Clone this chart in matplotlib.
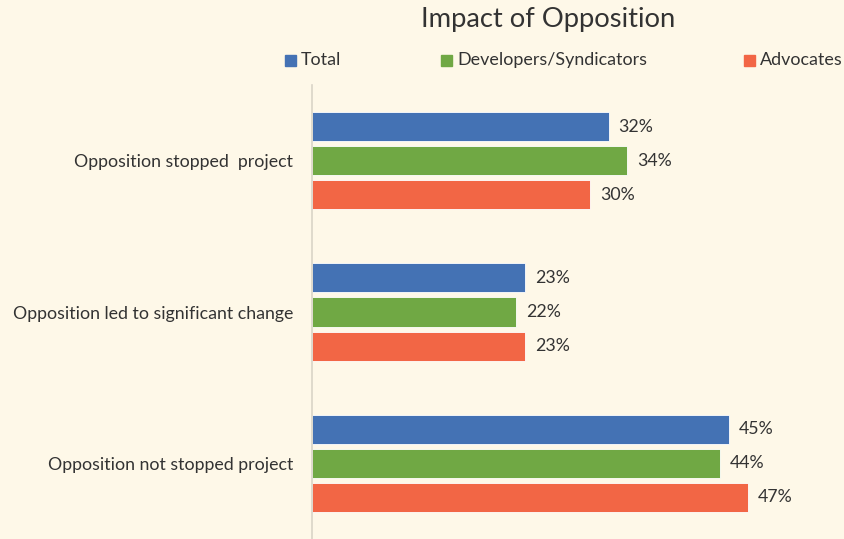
import matplotlib.pyplot as plt
from matplotlib.patches import Rectangle

# Data
categories = ['Opposition stopped  project', 'Opposition led to significant change', 'Opposition not stopped project']
series_names = ['Total', 'Developers/Syndicators', 'Advocates']
total = [32, 23, 45]
developers = [34, 22, 44]
advocates = [30, 23, 47]
colors = ['#4472B4', '#70A844', '#F26645']
bg = '#FEF8E8'

plt.rcParams['font.family'] = ['Lato', 'DejaVu Sans']

W, H = 844, 539
fig = plt.figure(figsize=(W / 100, H / 100), dpi=100, facecolor=bg)
ax = fig.add_axes([312 / W, 0, (W - 312) / W, 1 - 85 / H], facecolor=bg)

pitch = 0.225
height = 0.192
for i, (name, vals, c) in enumerate(zip(series_names, [total, developers, advocates], colors)):
    ys = [k + (i - 1) * pitch for k in range(len(categories))]
    ax.barh(ys, vals, height=height, color=c, edgecolor='white', linewidth=0.6, label=name)
    for y, v in zip(ys, vals):
        ax.annotate(f'{v}%', (v, y), xytext=(7, 0), textcoords='offset points',
                    va='center', ha='left', fontsize=12.8, color='#333333')

ax.set_xlim(0, 57.4)
ax.set_ylim(2.5, -0.5)
ax.set_yticks(range(len(categories)))
ax.set_yticklabels(categories, fontsize=12.8, color='#333333')
ax.tick_params(axis='y', length=0, pad=13.5)
ax.set_xticks([])
for s in ['top', 'right', 'bottom']:
    ax.spines[s].set_visible(False)
ax.spines['left'].set_color('#D9D4C7')
ax.spines['left'].set_linewidth(1.2)

fig.text(548 / W, 1 - 19 / H, 'Impact of Opposition', ha='center', va='center',
         fontsize=19.7, color='#333333')

# Legend
leg_x = [285, 441, 744]
for x, name, c in zip(leg_x, series_names, colors):
    fig.patches.append(Rectangle((x / W, 1 - 66 / H), 11 / W, 11 / H, transform=fig.transFigure,
                                 color=c, figure=fig))
    fig.text((x + 16) / W, 1 - 60 / H, name, ha='left', va='center', fontsize=12.9, color='#333333')

fig.savefig('out.png', dpi=100, facecolor=bg)
